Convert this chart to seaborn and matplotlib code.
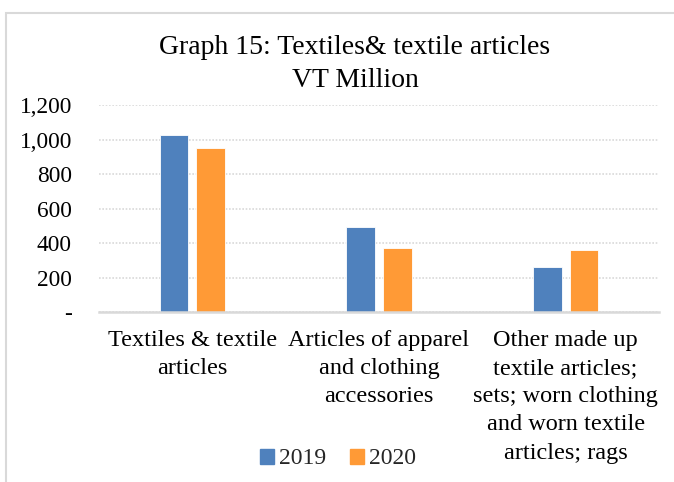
import matplotlib
matplotlib.use("Agg")
import matplotlib.pyplot as plt
import matplotlib.patches as mpatches
import seaborn as sns
import pandas as pd

categories = [
    "Textiles & textile\narticles",
    "Articles of apparel\nand clothing\naccessories",
    "Other made up\ntextile articles;\nsets; worn clothing\nand worn textile\narticles; rags",
]
years = ["2019", "2020"]
values_2019 = [1025, 494, 264]
values_2020 = [951, 372, 361]
y_ticks = [0, 200, 400, 600, 800, 1000, 1200]
y_tick_labels = ["-", "200", "400", "600", "800", "1,000", "1,200"]
title_text = "Graph 15: Textiles& textile articles\nVT Million"

df = pd.DataFrame({
    "category": categories * 2,
    "year": [years[0]] * 3 + [years[1]] * 3,
    "value": values_2019 + values_2020,
})

sns.set_theme(style="white")
plt.rcParams["font.family"] = ["Liberation Serif", "DejaVu Serif"]

fig = plt.figure(figsize=(6.74, 4.82), dpi=100)
ax = fig.add_axes([99 / 674, 1 - 312.3 / 482, (659 - 99) / 674, (312.3 - 105) / 482])

colors = {"2019": "#4F81BD", "2020": "#FF9A36"}
sns.barplot(data=df, x="category", y="value", hue="year", palette=colors,
            width=0.394, gap=0.22, ax=ax, legend=False,
            edgecolor="white", linewidth=0.6, saturation=1)

ax.set_xlim(-0.5, 2.5)
ax.set_ylim(0, 1200)
ax.set_yticks(y_ticks)
ax.set_yticklabels(y_tick_labels, fontsize=16.8, color="black")
ax.tick_params(axis="y", length=0, pad=19.5)
ax.tick_params(axis="x", length=0, pad=13)
for lab in ax.get_xticklabels():
    lab.set_fontsize(17.5)
    lab.set_linespacing(1.44)
    lab.set_color("black")
ax.set_xlabel("")
ax.set_ylabel("")
ax.yaxis.grid(True, color="#D9D9D9", linestyle=(0, (1, 1)), linewidth=1.2)
ax.set_axisbelow(True)
for s in ["left", "right", "top"]:
    ax.spines[s].set_visible(False)
ax.spines["bottom"].set_color("#D9D9D9")
ax.spines["bottom"].set_linewidth(1.8)

fig.text(355 / 674, 1 - 64 / 482, title_text, ha="center", va="center",
         fontsize=20, linespacing=1.45, color="black")

handles = [mpatches.Patch(color=colors[y], label=y) for y in years]
fig.legend(handles=handles, loc="center", bbox_to_anchor=(338 / 674, 1 - 459 / 482),
           ncol=2, frameon=False, fontsize=17, handlelength=0.6, handleheight=0.6,
           handletextpad=0.2, columnspacing=1.0)

border = mpatches.Rectangle((6 / 674, -0.05), 1.1, 1 - 13 / 482 + 0.05,
                            transform=fig.transFigure, fill=False,
                            edgecolor="#D9D9D9", linewidth=1.5)
fig.patches.append(border)

fig.savefig("out.png", dpi=100)
